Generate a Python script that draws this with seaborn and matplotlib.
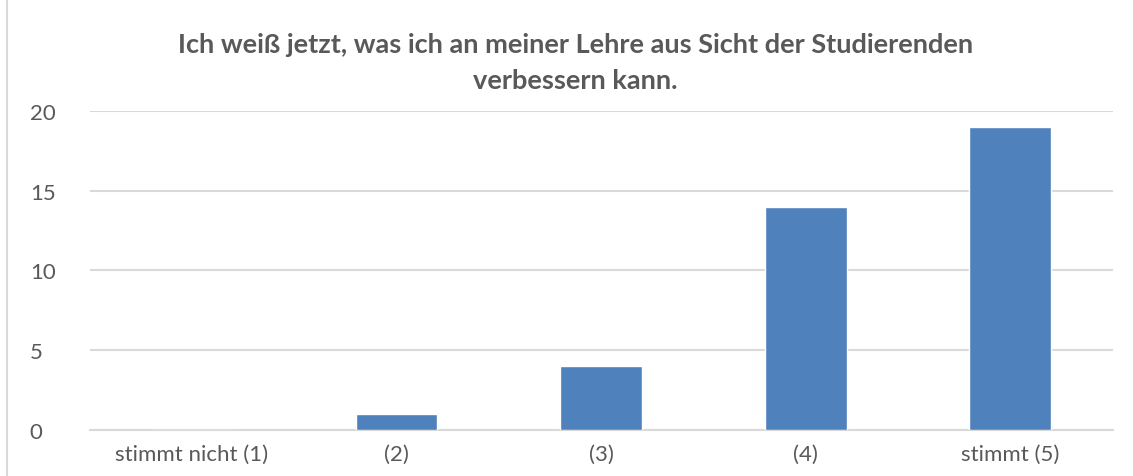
import matplotlib
matplotlib.use("Agg")
import matplotlib.pyplot as plt
import seaborn as sns
import pandas as pd
from matplotlib.lines import Line2D

categories = ["stimmt nicht (1)", "(2)", "(3)", "(4)", "stimmt (5)"]
counts = [0, 1, 4, 14, 19]
y_ticks = [0, 5, 10, 15, 20]
title = "Ich weiß jetzt, was ich an meiner Lehre aus Sicht der Studierenden\nverbessern kann."

df = pd.DataFrame({"Antwort": categories, "Anzahl": counts})

sns.set_theme(style="white")
plt.rcParams["font.family"] = ["Lato", "DejaVu Sans"]

text_color = "#595959"
grid_color = "#D9D9D9"

fig = plt.figure(figsize=(11.33, 4.77), dpi=100)
ax = fig.add_axes([0.079, 0.0964, 0.903, 0.669])

sns.barplot(data=df, x="Antwort", y="Anzahl", color="#4F81BD", saturation=1,
            width=0.4, ax=ax, zorder=3)

ax.set_ylim(0, 20)
ax.set_yticks(y_ticks)
ax.set_xlim(-0.5, len(categories) - 0.5)
ax.yaxis.grid(True, color=grid_color, linewidth=1.5, zorder=0)
ax.set_axisbelow(True)
for side in ["top", "right", "left"]:
    ax.spines[side].set_visible(False)
ax.spines["bottom"].set_color(grid_color)
ax.spines["bottom"].set_linewidth(1.5)
ax.tick_params(axis="both", length=0, labelsize=16, colors=text_color)
ax.tick_params(axis="y", pad=43)
ax.tick_params(axis="x", pad=10)
ax.set_xlabel("")
ax.set_ylabel("")
for lbl in ax.get_yticklabels():
    lbl.set_horizontalalignment("left")

fig.text(0.508, 0.805, title, ha="center", va="bottom", fontsize=19.5,
         fontweight="bold", color=text_color, linespacing=1.6)

# chart frame edge on the left
fig.add_artist(Line2D([0.006, 0.006], [0, 1], color=grid_color, linewidth=1.5,
                      transform=fig.transFigure))

fig.savefig("out.png", dpi=100, facecolor="white")
